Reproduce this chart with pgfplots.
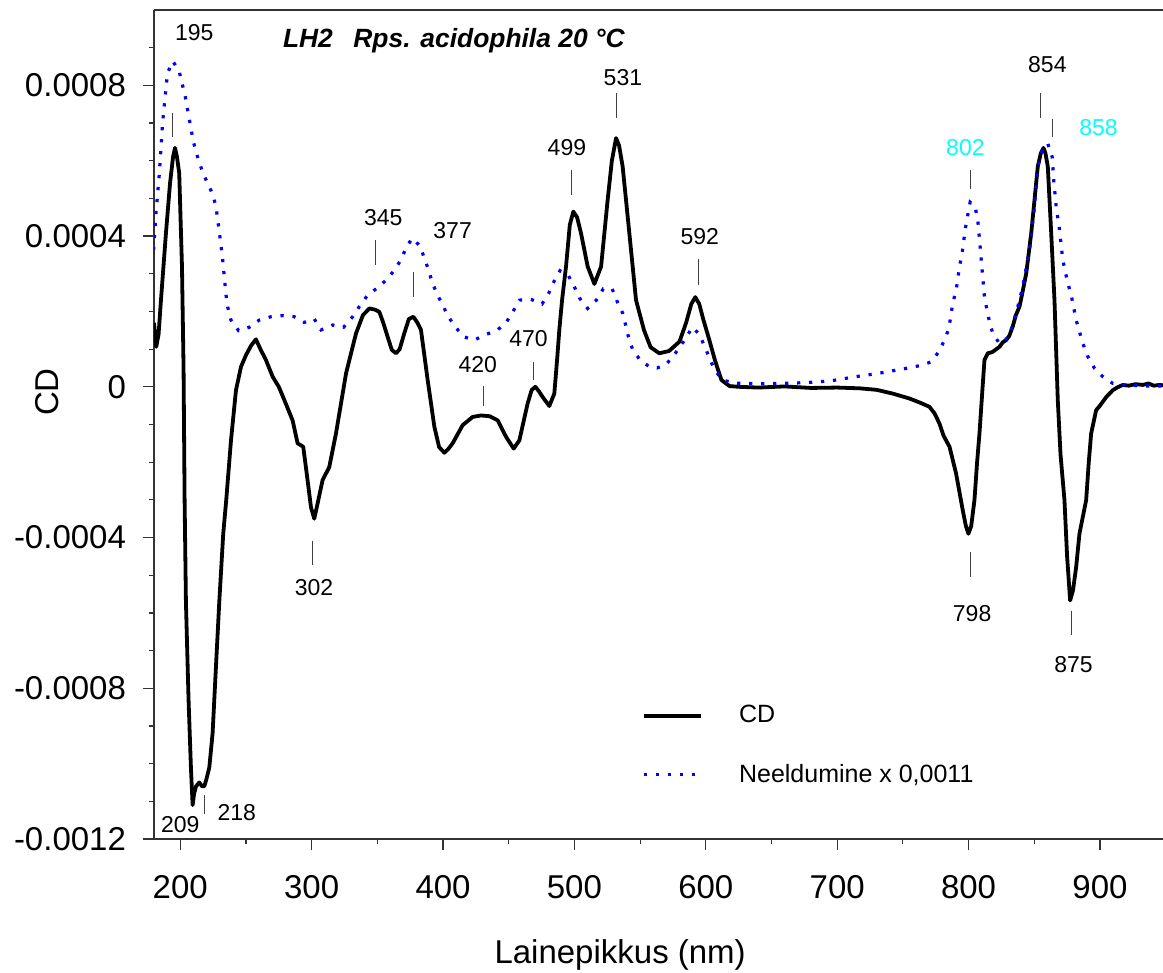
\documentclass[border=0pt]{standalone}
\usepackage{fontspec}
\setmainfont{Liberation Sans}
\usepackage{pgfplots}
\pgfplotsset{compat=1.18}
\definecolor{absblue}{RGB}{0,0,255}
\definecolor{lblcyan}{RGB}{0,255,255}
\newcommand\annfont{\fontsize{11.5}{13}\selectfont}

\pgfplotstableread{
x y
180 0.00017
181.7 0.000106
183.5 0.00014
185.3 0.00023
189.1 0.000408
192.2 0.00054
194.5 0.00061
196 0.000634
197.5 0.00061
199.2 0.000567
201.3 0.000319
202.5 0.00005
203.3 -0.0003
204.3 -0.00057
206.3 -0.00083
208.1 -0.00101
209.4 -0.00111
210.5 -0.00108
212 -0.00106
214.5 -0.00105
216.5 -0.00106
218.3 -0.00106
220 -0.00104
222.1 -0.00101
224.6 -0.00092
227.2 -0.00074
229.7 -0.00057
232.7 -0.00039
235 -0.0003
238.6 -0.000142
242.4 -0.000009
246.2 0.000053
250 0.000084
254 0.00011
257.6 0.000126
261 0.0001
265.2 0.000071
270.3 0.000027
275 0.0
279.2 -0.000035
285.5 -0.000089
289.3 -0.00015
293.6 -0.000159
296.9 -0.000248
299.5 -0.00032
302 -0.00035
304.5 -0.00031
308.3 -0.000248
313.4 -0.000213
318.5 -0.000124
326.2 0.000036
333.8 0.000142
339 0.00019
343.9 0.000208
348 0.000205
351.5 0.000199
354.5 0.00017
357.8 0.000133
361 0.000098
364.2 0.000089
367 0.0001
370.5 0.000142
374 0.00018
377.4 0.000186
380.5 0.00017
383.2 0.000151
388.3 0.000018
393.4 -0.000106
397 -0.00016
401 -0.000175
404 -0.000165
407.3 -0.00015
414.9 -0.000102
422.5 -0.00008
429 -0.000076
435.3 -0.000078
441.6 -0.000089
448 -0.000133
453.8 -0.000164
458.1 -0.000142
464.4 -0.000044
467.5 -0.000008
470.3 0.0
473 -0.000012
475.8 -0.000027
480.9 -0.000051
484.7 -0.000018
487 0.00008
488.5 0.000151
490.6 0.00023
493.6 0.000319
496.5 0.00043
499.2 0.000465
502 0.00045
505 0.000408
510.1 0.000319
515.2 0.000273
520.3 0.000319
525.3 0.000496
528.5 0.0006
531.7 0.00066
534 0.00064
536.7 0.000585
541.8 0.000408
546.9 0.00023
553 0.00015
558 0.000105
564.6 0.000089
572 0.000095
580 0.00012
585 0.00017
589 0.00022
592 0.000238
595 0.00022
598 0.00018
602.7 0.000124
607 0.00007
611.9 0.000018
618 0.000002
625 0.0
640 -0.000002
660 0.000001
680 -0.000003
700 -0.000002
717 -0.000004
730 -0.000008
742.3 -0.000018
755 -0.000031
763 -0.000042
770.2 -0.000053
774 -0.00007
777.8 -0.000097
781 -0.00013
785.5 -0.000159
790.5 -0.00023
795.6 -0.000328
798 -0.00037
799.9 -0.00039
802 -0.00037
804.5 -0.0003
806.5 -0.0002
808.3 -0.000124
810.5 -0.00001
812.1 0.000071
814.6 0.000089
818 0.000092
823.5 0.000106
826 0.000118
828.6 0.000124
831 0.000135
833.6 0.00016
836 0.00019
838.8 0.000213
841 0.00025
843.9 0.000301
847.7 0.000408
850.2 0.000496
852.7 0.000585
855 0.00062
857 0.000634
858.5 0.00062
860.3 0.000585
862.9 0.000408
865.4 0.00023
867.9 -0.000035
870 -0.00018
873 -0.000301
875 -0.00045
877.3 -0.000567
879.5 -0.00054
881.9 -0.000478
884.4 -0.00039
889.5 -0.000301
891.5 -0.0002
893.3 -0.000124
897.1 -0.000062
900 -0.00005
904.8 -0.000027
909.8 -0.000009
913 -0.000002
917.4 0.000005
922 0.000003
927 0.000007
932.7 0.000005
937 0.000009
941 0.000003
945.3 0.000005
948 0.000004
}\cdtable

\pgfplotstableread{
x y
179.7 0.000363
181.5 0.000461
184 0.000563
186.5 0.0007
190.3 0.000833
194.4 0.000864
199.2 0.000837
203.8 0.00077
207.4 0.0007
210 0.00065
213.7 0.000603
217 0.00057
220.8 0.00054
224.6 0.000512
227.2 0.000478
229.7 0.000412
232.3 0.000337
234.8 0.000244
236 0.000213
238.6 0.000177
244.4 0.000149
252.5 0.000158
260.1 0.000177
269 0.000186
277.9 0.000189
286.8 0.000186
294.4 0.000171
302 0.00018
307.1 0.000151
316 0.000164
324.3 0.000158
331.2 0.000186
336.3 0.000213
341.9 0.00024
349 0.00026
356.4 0.000282
362.2 0.000306
368 0.000337
371.8 0.000368
376.4 0.000394
382.5 0.000374
385.8 0.000341
388.8 0.000312
391.6 0.000279
395.2 0.000248
399.7 0.000217
404 0.000186
409.4 0.000159
415.5 0.000133
423.8 0.000124
431.4 0.000137
441.6 0.000151
448.5 0.000173
453.1 0.000199
458.3 0.00023
467 0.000232
475.4 0.00022
480.4 0.000248
484.4 0.000279
489 0.000308
495.6 0.000294
500 0.000265
504 0.000235
510.1 0.000208
516.7 0.00023
522 0.00026
528.7 0.00026
532.6 0.000226
536.8 0.000195
541.1 0.000133
544.4 0.000098
550 0.000071
557.1 0.000053
563 0.00005
570 0.00006
577 0.00009
583 0.00012
589.8 0.000158
595 0.00014
600 0.0001
606 0.00005
612 0.00002
620 0.00001
640 0.000008
656 0.000009
676.3 0.000011
695.4 0.000016
714.4 0.000027
733.4 0.000037
752.5 0.000049
762.6 0.000056
771.5 0.000066
777.3 0.000093
781.7 0.000124
785 0.000155
788 0.000222
790.6 0.000257
793.1 0.000319
795.1 0.000355
797.6 0.000421
799.4 0.000456
801.2 0.00049
803 0.000485
805.2 0.000474
807 0.000443
808.8 0.000372
810.3 0.00031
812.1 0.000239
813.8 0.000208
815.9 0.000173
818.4 0.000142
823.5 0.000115
827 0.00012
831.1 0.000137
836.2 0.000195
841.3 0.000266
846.4 0.000363
850.2 0.000478
852.7 0.000585
856.5 0.000634
860.3 0.000645
863.6 0.000611
864.9 0.000545
866.7 0.000478
869.2 0.000417
871.7 0.000337
875.5 0.000275
878.1 0.000244
881.9 0.000177
887 0.000115
890.8 0.00008
895.9 0.000049
902.2 0.000027
909.8 0.000009
920 0.0000045
935 0.000002
948 0.000002
}\abstable

\begin{document}
\begin{tikzpicture}
\begin{axis}[
  scale only axis,
  width=504.5pt, height=414.5pt,
  xmin=180, xmax=948, ymin=-0.0012, ymax=0.001,
  axis x line=box, axis y line=left,
  x axis line style={-}, y axis line style={-},
  axis line style={black!80, line width=0.6pt},
  xtick pos=left,
  tick align=outside,
  major tick length=5.5pt, minor tick length=2.5pt,
  tick style={black!80, line width=0.6pt},
  xtick={200,300,...,900},
  minor xtick={250,350,450,550,650,750,850},
  ytick={-0.0012,-0.0008,-0.0004,0,0.0004,0.0008},
  yticklabels={-0.0012,-0.0008,-0.0004,0,0.0004,0.0008},
  minor ytick={-0.0011,-0.001,-0.0009,-0.0007,-0.0006,-0.0005,-0.0003,-0.0002,-0.0001,0.0001,0.0002,0.0003,0.0005,0.0006,0.0007,0.0009},
  scaled y ticks=false,
  /pgf/number format/assume math mode=true,
  tick label style={font=\fontsize{16.5}{18}\selectfont},
  xticklabel style={yshift=-9pt},
  yticklabel style={xshift=-5pt},
  xlabel={Lainepikkus (nm)},
  ylabel={CD},
  every axis x label/.style={at={(axis description cs:0.462,-0.140)}, anchor=center, font=\fontsize{16.5}{18}\selectfont},
  every axis y label/.style={at={(axis description cs:-0.106,0.539)}, anchor=center, rotate=90, font=\fontsize{16.5}{18}\selectfont},
  legend style={draw=none, fill=none, inner sep=0pt, at={(axis description cs:0.4836,0.113)}, anchor=west,
    font=\fontsize{12.5}{14}\selectfont, row sep=19pt,
    nodes={inner sep=0pt},
    /tikz/every odd column/.append style={column sep=18pt}},
  legend cell align=left,
  legend image code/.code={\draw[#1] (0cm,0cm) -- (1cm,0cm);},
]
\addplot[black, line width=1.9pt, line join=round] table[x=x,y=y] {\cdtable};
\addlegendentry{CD}
\addplot[absblue, line width=1.6pt, dash pattern=on 1.6pt off 4.4pt] table[x=x,y=y] {\abstable};
\addlegendentry{Neeldumine x 0,0011}

\node[anchor=base west, font=\fontsize{13.2}{15}\selectfont\bfseries\itshape] at (rel axis cs:0.1209,0.9542) {LH2\hspace{0.5em} Rps. acidophila 20 °C};

\begin{scope}[black!75, line width=0.5pt]
\draw (axis cs:194.4,0.000727) -- (axis cs:194.4,0.000663);
\draw (axis cs:218.5,-0.001083) -- (axis cs:218.5,-0.001133);
\draw (axis cs:300.3,-0.000408) -- (axis cs:300.3,-0.000474);
\draw (axis cs:348.5,0.00039) -- (axis cs:348.5,0.000323);
\draw (axis cs:377.4,0.000306) -- (axis cs:377.4,0.000239);
\draw (axis cs:430.7,0.0000018) -- (axis cs:430.7,-0.0000513);
\draw (axis cs:469,0.0000665) -- (axis cs:469,0.0000178);
\draw (axis cs:497.9,0.000576) -- (axis cs:497.9,0.00051);
\draw (axis cs:531.7,0.00078) -- (axis cs:531.7,0.000714);
\draw (axis cs:594.4,0.000339) -- (axis cs:594.4,0.00027);
\draw (axis cs:801.4,0.000576) -- (axis cs:801.4,0.000525);
\draw (axis cs:854.5,0.00078) -- (axis cs:854.5,0.000714);
\draw (axis cs:864.1,0.000711) -- (axis cs:864.1,0.000662);
\draw (axis cs:801.4,-0.000439) -- (axis cs:801.4,-0.000506);
\draw (axis cs:878.3,-0.000594) -- (axis cs:878.3,-0.000658);
\end{scope}

\begin{scope}[every node/.style={font=\annfont, inner sep=0pt}]
\node at (axis cs:210.7,0.00094) {195};
\node at (axis cs:200,-0.001163) {209};
\node at (axis cs:243,-0.00113) {218};
\node at (axis cs:301.8,-0.000534) {302};
\node at (axis cs:354.5,0.000448) {345};
\node at (axis cs:407.3,0.000414) {377};
\node at (axis cs:426.5,0.0000577) {420};
\node at (axis cs:465,0.000129) {470};
\node at (axis cs:494.3,0.000634) {499};
\node at (axis cs:536.9,0.00082) {531};
\node at (axis cs:595.4,0.000398) {592};
\node[text=lblcyan] at (axis cs:797.6,0.000634) {802};
\node at (axis cs:860,0.000855) {854};
\node[text=lblcyan] at (axis cs:898.9,0.000688) {858};
\node at (axis cs:802.7,-0.000602) {798};
\node at (axis cs:879.9,-0.000737) {875};
\end{scope}

\coordinate (ll) at (rel axis cs:0,0);
\coordinate (ur) at (rel axis cs:1,1);
\end{axis}
\pgfresetboundingbox
\path[use as bounding box] ([shift={(-77pt,-67pt)}]ll) rectangle ([shift={(0pt,5pt)}]ur);
\end{tikzpicture}
\end{document}
